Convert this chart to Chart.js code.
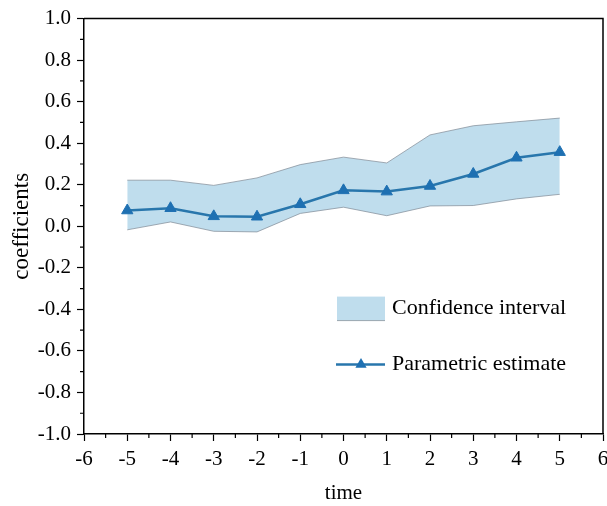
<!DOCTYPE html>
<html>
<head>
<meta charset="utf-8">
<script src="https://cdn.jsdelivr.net/npm/chart.js@4.4.1/dist/chart.umd.min.js"></script>
<style>
  html, body { margin: 0; padding: 0; background: #fff; overflow: hidden; }
  #wrap { width: 607px; height: 506px; overflow: hidden; }
</style>
</head>
<body>
<div id="wrap"><canvas id="chart" width="620" height="506"></canvas></div>
<script>
const times = [-5, -4, -3, -2, -1, 0, 1, 2, 3, 4, 5]
const estimate = [0.076, 0.087, 0.048, 0.046, 0.106, 0.173, 0.167, 0.194, 0.252, 0.330, 0.357]
const upper = [0.222, 0.222, 0.197, 0.233, 0.297, 0.333, 0.305, 0.440, 0.484, 0.503, 0.521]
const lower = [-0.017, 0.021, -0.024, -0.027, 0.062, 0.092, 0.051, 0.098, 0.100, 0.132, 0.154]
const legendLabels = ["Confidence interval", "Parametric estimate"]

const FONT = "'Liberation Serif', 'Times New Roman', serif"
const bandFill = "rgb(191, 221, 237)"
const lineColor = "rgb(40, 118, 172)"
const markerColor = "rgb(30, 112, 178)"

const toXY = arr => arr.map((v, i) => ({ x: times[i], y: v }))

// minor ticks, top/right frame and the legend
const extras = {
    id: "extras",
    afterDraw(chart) {
        const ctx = chart.ctx
        const a = chart.chartArea
        const xs = chart.scales.x
        const ys = chart.scales.y
        ctx.save()
        ctx.strokeStyle = "#000"
        ctx.lineWidth = 1.5
        ctx.beginPath()
        ctx.moveTo(a.left, a.top)
        ctx.lineTo(a.right, a.top)
        ctx.lineTo(a.right, a.bottom)
        ctx.stroke()

        ctx.lineWidth = 1.2
        ctx.beginPath()
        for (let v = -5.5; v < 6; v += 1) {
            const px = xs.getPixelForValue(v)
            ctx.moveTo(px, a.bottom)
            ctx.lineTo(px, a.bottom + 4)
        }
        for (let k = -9; k <= 9; k += 2) {
            const py = ys.getPixelForValue(k / 10)
            ctx.moveTo(a.left, py)
            ctx.lineTo(a.left - 4, py)
        }
        ctx.stroke()

        // legend
        const lx = a.left + 253
        const ly1 = a.top + 290
        const ly2 = a.top + 346
        ctx.fillStyle = bandFill
        ctx.fillRect(lx, ly1 - 12, 48, 24)
        ctx.strokeStyle = "#9aa7b0"
        ctx.lineWidth = 1
        ctx.beginPath()
        ctx.moveTo(lx, ly1 + 12)
        ctx.lineTo(lx + 48, ly1 + 12)
        ctx.stroke()

        ctx.strokeStyle = lineColor
        ctx.lineWidth = 2.5
        ctx.beginPath()
        ctx.moveTo(lx - 1, ly2)
        ctx.lineTo(lx + 48, ly2)
        ctx.stroke()
        ctx.fillStyle = markerColor
        ctx.beginPath()
        const r = 6.5
        ctx.moveTo(lx + 24, ly2 - r)
        ctx.lineTo(lx + 24 + r * 0.866, ly2 + r / 2)
        ctx.lineTo(lx + 24 - r * 0.866, ly2 + r / 2)
        ctx.closePath()
        ctx.fill()

        ctx.fillStyle = "#000"
        ctx.font = "22px " + FONT
        ctx.textBaseline = "middle"
        ctx.textAlign = "left"
        ctx.fillText(legendLabels[0], lx + 55, ly1)
        ctx.fillText(legendLabels[1], lx + 55, ly2)
        ctx.restore()
    }
}

new Chart(document.getElementById("chart").getContext("2d"), {
    type: "line",
    data: {
        datasets: [
            {
                label: "upper",
                data: toXY(upper),
                order: 2,
                borderColor: "rgba(130,140,150,0.9)",
                borderWidth: 0.8,
                backgroundColor: bandFill,
                fill: "+1",
                pointRadius: 0,
                tension: 0
            },
            {
                label: "lower",
                data: toXY(lower),
                order: 1,
                borderColor: "rgba(130,140,150,0.9)",
                borderWidth: 0.8,
                fill: false,
                pointRadius: 0,
                tension: 0
            },
            {
                label: legendLabels[1],
                data: toXY(estimate),
                order: 0,
                borderColor: lineColor,
                borderWidth: 2.5,
                pointStyle: "triangle",
                pointRadius: 6.5,
                pointBackgroundColor: markerColor,
                pointBorderColor: markerColor,
                pointBorderWidth: 1,
                fill: false,
                tension: 0
            }
        ]
    },
    options: {
        responsive: false,
        animation: false,
        layout: { padding: { left: 0, right: 17, top: 15, bottom: 0 } },
        plugins: { legend: { display: false }, tooltip: { enabled: false } },
        scales: {
            x: {
                type: "linear",
                min: -6,
                max: 6,
                border: { color: "#000", width: 1.5 },
                grid: { drawOnChartArea: false, drawTicks: true, tickLength: 7, tickColor: "#000", tickWidth: 1.2 },
                ticks: {
                    stepSize: 1,
                    color: "#000",
                    padding: 6,
                    font: { family: FONT, size: 21 },
                    callback: v => String(v)
                },
                title: { display: true, text: "time", color: "#000", font: { family: FONT, size: 21 }, padding: { top: 8, bottom: 0 } },
                afterFit: s => { s.height = 72 }
            },
            y: {
                min: -1,
                max: 1,
                border: { color: "#000", width: 1.5 },
                grid: { drawOnChartArea: false, drawTicks: true, tickLength: 7, tickColor: "#000", tickWidth: 1.2 },
                ticks: {
                    stepSize: 0.2,
                    color: "#000",
                    padding: 6,
                    font: { family: FONT, size: 21 },
                    callback: v => v.toFixed(1)
                },
                title: { display: true, text: "coefficients", color: "#000", font: { family: FONT, size: 23 }, padding: { top: 8, bottom: 0 } },
                afterFit: s => { s.width = 84 }
            }
        }
    },
    plugins: [extras]
})
</script>
</body>
</html>
